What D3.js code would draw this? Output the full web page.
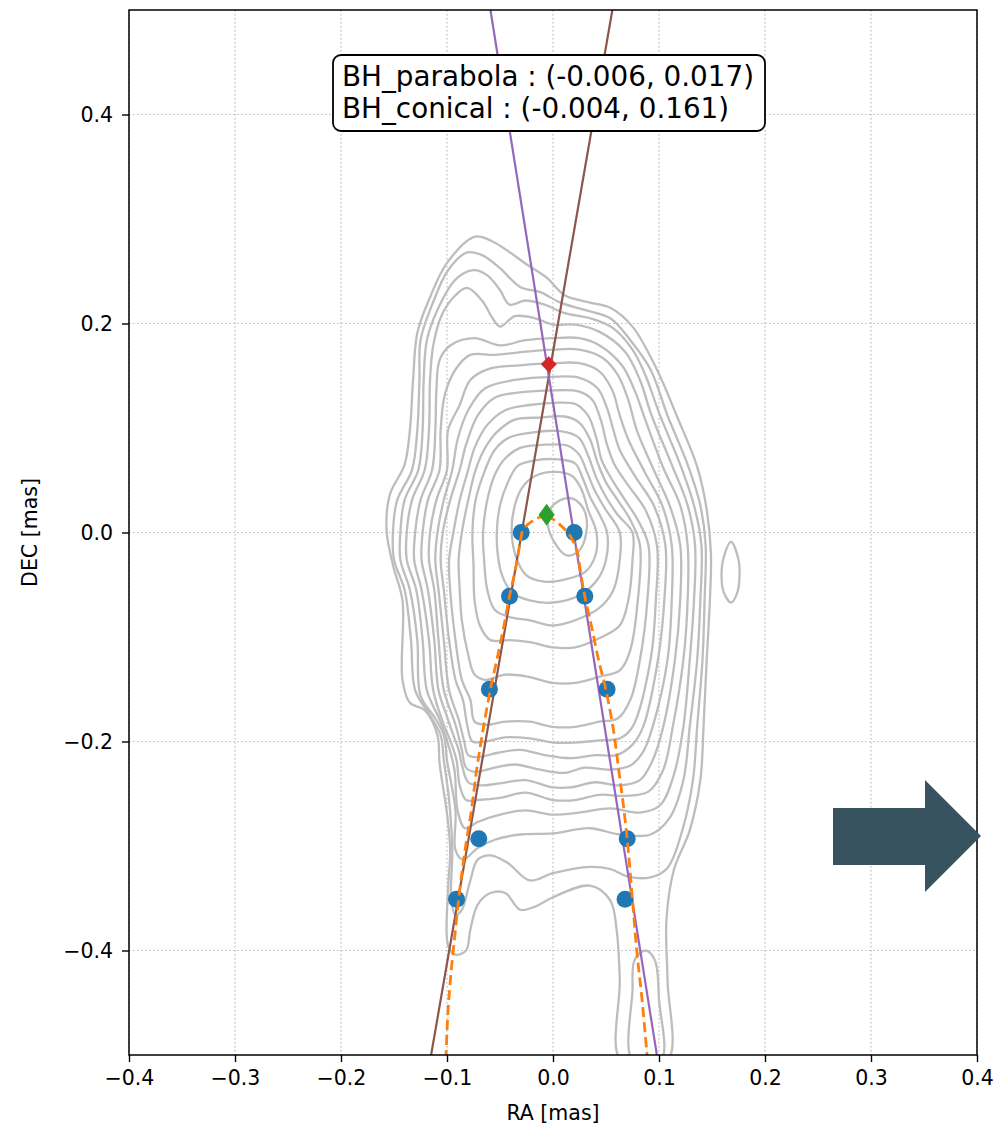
<!DOCTYPE html>
<html>
<head>
<meta charset="utf-8">
<script src="https://cdn.jsdelivr.net/npm/d3@7"></script>
<style>
body { margin: 0; background: #fff; }
text { font-family: "DejaVu Sans", sans-serif; }
</style>
</head>
<body>
<div id="chart"></div>
<script>
// ---- tick labels
const xTicks = [-0.4, -0.3, -0.2, -0.1, 0.0, 0.1, 0.2, 0.3, 0.4];
const yTicks = [-0.4, -0.2, 0.0, 0.2, 0.4];

// ---- jet edge points (RA, DEC)
const edgePoints = [
  [-0.030, 0.000], [0.020, 0.000],
  [-0.041, -0.061], [0.030, -0.061],
  [-0.060, -0.150], [0.051, -0.150],
  [-0.070, -0.293], [0.070, -0.293],
  [-0.091, -0.351], [0.068, -0.351]
];

// ---- black hole positions
const bhParabola = [-0.006, 0.017];
const bhConical = [-0.004, 0.161];

// ---- conical fits (two straight edges)
const conicalLeft = [[-0.115, -0.5], [0.056, 0.5]];
const conicalRight = [[0.098, -0.5], [-0.059, 0.5]];

// ---- parabolic fit, both branches from the apex
const parabolaLeft = [
  [-0.006, 0.017], [-0.018, 0.012], [-0.028, 0.003], [-0.031, -0.010], [-0.035, -0.033],
  [-0.041, -0.061], [-0.047, -0.093], [-0.053, -0.122], [-0.059, -0.150], [-0.066, -0.189],
  [-0.072, -0.227], [-0.077, -0.266], [-0.083, -0.304], [-0.088, -0.342], [-0.092, -0.380],
  [-0.096, -0.419], [-0.099, -0.457], [-0.101, -0.503]
];
const parabolaRight = [
  [-0.006, 0.017], [0.006, 0.008], [0.016, -0.003], [0.023, -0.019], [0.026, -0.038],
  [0.030, -0.061], [0.037, -0.093], [0.043, -0.122], [0.050, -0.151], [0.057, -0.189],
  [0.062, -0.227], [0.067, -0.266], [0.071, -0.304], [0.075, -0.352], [0.079, -0.400],
  [0.084, -0.447], [0.089, -0.503]
];

// ---- intensity contours, outermost first
const contour1 = [[-0.074,0.283],[-0.058,0.279],[-0.042,0.269],[-0.024,0.256],[-0.006,0.244],[0.011,0.227],[0.035,0.220],[0.054,0.215],[0.075,0.197],[0.098,0.156],[0.117,0.111],[0.136,0.063],[0.145,0.022],[0.149,-0.020],[0.148,-0.065],[0.145,-0.122],[0.142,-0.186],[0.139,-0.237],[0.129,-0.285],[0.114,-0.323],[0.107,-0.371],[0.108,-0.428],[0.108,-0.505],[0.064,-0.505],[0.063,-0.428],[0.060,-0.380],[0.054,-0.352],[0.035,-0.338],[0.000,-0.349],[-0.017,-0.358],[-0.031,-0.361],[-0.045,-0.345],[-0.059,-0.345],[-0.071,-0.356],[-0.078,-0.380],[-0.082,-0.400],[-0.092,-0.404],[-0.099,-0.395],[-0.099,-0.342],[-0.097,-0.304],[-0.100,-0.269],[-0.107,-0.221],[-0.109,-0.194],[-0.121,-0.170],[-0.135,-0.163],[-0.142,-0.141],[-0.142,-0.065],[-0.151,-0.031],[-0.157,0.002],[-0.154,0.036],[-0.140,0.065],[-0.135,0.098],[-0.132,0.146],[-0.128,0.191],[-0.116,0.225],[-0.100,0.258]];
const contour2 = [[-0.081,0.268],[-0.066,0.265],[-0.050,0.253],[-0.031,0.235],[-0.012,0.230],[0.007,0.220],[0.030,0.213],[0.054,0.205],[0.073,0.184],[0.092,0.156],[0.108,0.112],[0.127,0.065],[0.139,0.026],[0.144,-0.012],[0.143,-0.065],[0.141,-0.122],[0.136,-0.186],[0.132,-0.237],[0.122,-0.285],[0.108,-0.321],[0.092,-0.330],[0.070,-0.329],[0.054,-0.322],[0.035,-0.320],[0.000,-0.326],[-0.022,-0.333],[-0.043,-0.316],[-0.059,-0.309],[-0.071,-0.313],[-0.078,-0.333],[-0.086,-0.361],[-0.092,-0.366],[-0.096,-0.352],[-0.095,-0.304],[-0.098,-0.256],[-0.103,-0.218],[-0.106,-0.194],[-0.116,-0.175],[-0.130,-0.151],[-0.134,-0.103],[-0.140,-0.055],[-0.150,-0.026],[-0.151,0.000],[-0.147,0.031],[-0.133,0.060],[-0.128,0.098],[-0.126,0.146],[-0.125,0.184],[-0.114,0.218],[-0.099,0.251]];
const contour3 = [[-0.075,0.251],[-0.062,0.246],[-0.050,0.232],[-0.041,0.218],[-0.026,0.222],[-0.008,0.218],[0.011,0.210],[0.035,0.205],[0.056,0.196],[0.075,0.175],[0.087,0.151],[0.101,0.112],[0.120,0.065],[0.133,0.026],[0.140,-0.012],[0.139,-0.065],[0.136,-0.122],[0.129,-0.186],[0.123,-0.237],[0.110,-0.273],[0.092,-0.289],[0.063,-0.289],[0.035,-0.283],[0.000,-0.288],[-0.031,-0.289],[-0.055,-0.294],[-0.071,-0.302],[-0.085,-0.313],[-0.092,-0.304],[-0.092,-0.266],[-0.100,-0.218],[-0.103,-0.194],[-0.111,-0.178],[-0.125,-0.156],[-0.128,-0.103],[-0.135,-0.055],[-0.144,-0.026],[-0.144,0.000],[-0.140,0.031],[-0.127,0.060],[-0.123,0.098],[-0.122,0.146],[-0.119,0.184],[-0.109,0.213],[-0.092,0.242]];
const contour4 = [[-0.081,0.234],[-0.067,0.222],[-0.057,0.205],[-0.050,0.197],[-0.036,0.207],[-0.017,0.205],[0.000,0.199],[0.021,0.199],[0.044,0.192],[0.068,0.173],[0.082,0.146],[0.093,0.112],[0.112,0.065],[0.127,0.026],[0.134,-0.012],[0.133,-0.065],[0.129,-0.122],[0.123,-0.186],[0.114,-0.232],[0.101,-0.261],[0.082,-0.268],[0.054,-0.264],[0.025,-0.268],[0.000,-0.270],[-0.026,-0.266],[-0.050,-0.270],[-0.071,-0.277],[-0.083,-0.283],[-0.090,-0.266],[-0.093,-0.227],[-0.100,-0.199],[-0.107,-0.179],[-0.119,-0.151],[-0.123,-0.103],[-0.129,-0.055],[-0.138,-0.026],[-0.138,0.000],[-0.133,0.031],[-0.121,0.060],[-0.117,0.098],[-0.116,0.146],[-0.113,0.179],[-0.105,0.208],[-0.092,0.227]];
const contour5 = [[-0.097,0.179],[-0.074,0.186],[-0.050,0.179],[-0.026,0.184],[0.000,0.186],[0.025,0.186],[0.044,0.179],[0.065,0.160],[0.077,0.136],[0.087,0.108],[0.104,0.062],[0.120,0.026],[0.127,-0.012],[0.127,-0.065],[0.123,-0.122],[0.113,-0.186],[0.104,-0.227],[0.090,-0.248],[0.068,-0.252],[0.044,-0.251],[0.021,-0.256],[0.000,-0.256],[-0.026,-0.249],[-0.050,-0.254],[-0.071,-0.256],[-0.082,-0.256],[-0.088,-0.242],[-0.091,-0.218],[-0.097,-0.199],[-0.103,-0.184],[-0.113,-0.151],[-0.117,-0.103],[-0.124,-0.055],[-0.131,-0.026],[-0.130,0.000],[-0.125,0.031],[-0.114,0.060],[-0.111,0.098],[-0.110,0.136],[-0.107,0.165]];
const contour6 = [[-0.092,0.156],[-0.078,0.170],[-0.055,0.170],[-0.026,0.173],[0.000,0.175],[0.025,0.175],[0.047,0.167],[0.061,0.151],[0.071,0.127],[0.079,0.098],[0.095,0.060],[0.110,0.026],[0.120,-0.012],[0.120,-0.065],[0.115,-0.122],[0.104,-0.186],[0.094,-0.218],[0.082,-0.237],[0.063,-0.242],[0.040,-0.239],[0.016,-0.244],[0.000,-0.244],[-0.026,-0.237],[-0.050,-0.240],[-0.069,-0.242],[-0.080,-0.239],[-0.086,-0.222],[-0.089,-0.208],[-0.094,-0.194],[-0.099,-0.179],[-0.108,-0.151],[-0.112,-0.103],[-0.118,-0.055],[-0.124,-0.026],[-0.123,0.000],[-0.118,0.031],[-0.107,0.060],[-0.106,0.098],[-0.102,0.132]];
const contour7 = [[-0.088,0.122],[-0.078,0.146],[-0.059,0.157],[-0.031,0.160],[0.000,0.162],[0.025,0.162],[0.044,0.154],[0.056,0.136],[0.063,0.112],[0.071,0.089],[0.087,0.057],[0.103,0.026],[0.112,-0.012],[0.112,-0.065],[0.108,-0.122],[0.094,-0.186],[0.085,-0.210],[0.073,-0.223],[0.054,-0.227],[0.030,-0.225],[0.011,-0.230],[-0.012,-0.227],[-0.036,-0.222],[-0.055,-0.225],[-0.074,-0.229],[-0.082,-0.225],[-0.086,-0.208],[-0.092,-0.184],[-0.103,-0.151],[-0.108,-0.103],[-0.112,-0.055],[-0.117,-0.026],[-0.116,0.000],[-0.110,0.031],[-0.100,0.060],[-0.099,0.098]];
const contour8 = [[-0.080,0.117],[-0.064,0.138],[-0.036,0.146],[0.000,0.149],[0.025,0.148],[0.042,0.138],[0.051,0.119],[0.057,0.098],[0.063,0.079],[0.078,0.053],[0.095,0.026],[0.106,-0.012],[0.105,-0.065],[0.099,-0.122],[0.085,-0.186],[0.075,-0.203],[0.060,-0.213],[0.040,-0.213],[0.016,-0.216],[-0.008,-0.213],[-0.031,-0.208],[-0.053,-0.211],[-0.071,-0.215],[-0.080,-0.213],[-0.084,-0.199],[-0.089,-0.179],[-0.098,-0.151],[-0.103,-0.103],[-0.108,-0.055],[-0.111,-0.026],[-0.109,0.000],[-0.103,0.031],[-0.095,0.060],[-0.090,0.089]];
const contour9 = [[-0.104,0.000],[-0.097,0.031],[-0.088,0.060],[-0.082,0.084],[-0.071,0.112],[-0.055,0.129],[-0.031,0.134],[0.000,0.136],[0.024,0.135],[0.037,0.127],[0.045,0.108],[0.051,0.084],[0.058,0.065],[0.071,0.045],[0.087,0.022],[0.098,-0.012],[0.097,-0.065],[0.092,-0.122],[0.075,-0.186],[0.063,-0.197],[0.044,-0.199],[0.021,-0.201],[0.000,-0.201],[-0.022,-0.197],[-0.045,-0.196],[-0.064,-0.200],[-0.076,-0.200],[-0.081,-0.184],[-0.085,-0.160],[-0.092,-0.141],[-0.098,-0.103],[-0.103,-0.055],[-0.106,-0.026]];
const contour10 = [[-0.094,0.000],[-0.088,0.031],[-0.080,0.060],[-0.074,0.081],[-0.062,0.103],[-0.045,0.117],[-0.022,0.122],[0.000,0.124],[0.021,0.123],[0.033,0.112],[0.041,0.090],[0.046,0.069],[0.056,0.050],[0.068,0.031],[0.080,0.012],[0.090,-0.012],[0.089,-0.065],[0.082,-0.122],[0.073,-0.160],[0.061,-0.178],[0.044,-0.181],[0.021,-0.186],[0.000,-0.186],[-0.022,-0.181],[-0.045,-0.181],[-0.064,-0.184],[-0.074,-0.181],[-0.078,-0.160],[-0.086,-0.141],[-0.092,-0.103],[-0.097,-0.055],[-0.098,-0.026]];
const contour11 = [[-0.086,0.000],[-0.080,0.031],[-0.073,0.060],[-0.064,0.081],[-0.053,0.096],[-0.036,0.108],[-0.012,0.110],[0.011,0.111],[0.025,0.105],[0.035,0.089],[0.042,0.067],[0.050,0.048],[0.061,0.031],[0.073,0.012],[0.082,-0.012],[0.080,-0.065],[0.073,-0.112],[0.063,-0.132],[0.044,-0.138],[0.021,-0.144],[0.000,-0.144],[-0.024,-0.138],[-0.045,-0.136],[-0.064,-0.141],[-0.074,-0.136],[-0.080,-0.117],[-0.086,-0.084],[-0.088,-0.055],[-0.089,-0.026]];
const contour12 = [[-0.076,0.000],[-0.073,0.031],[-0.064,0.060],[-0.055,0.079],[-0.041,0.091],[-0.017,0.096],[0.007,0.097],[0.024,0.091],[0.033,0.074],[0.041,0.052],[0.050,0.034],[0.061,0.017],[0.075,0.000],[0.075,-0.026],[0.071,-0.065],[0.063,-0.089],[0.044,-0.101],[0.021,-0.110],[0.000,-0.110],[-0.022,-0.105],[-0.041,-0.103],[-0.059,-0.103],[-0.069,-0.089],[-0.074,-0.065],[-0.075,-0.031]];
const contour13 = [[-0.066,0.000],[-0.062,0.031],[-0.055,0.055],[-0.045,0.071],[-0.031,0.081],[-0.008,0.084],[0.014,0.083],[0.025,0.074],[0.032,0.058],[0.039,0.041],[0.049,0.023],[0.063,0.000],[0.063,-0.026],[0.057,-0.055],[0.044,-0.072],[0.021,-0.084],[0.000,-0.089],[-0.022,-0.084],[-0.041,-0.081],[-0.055,-0.074],[-0.062,-0.055],[-0.065,-0.026]];
const contour14 = [[-0.053,0.000],[-0.050,0.026],[-0.043,0.047],[-0.033,0.064],[-0.017,0.069],[0.005,0.070],[0.021,0.066],[0.028,0.052],[0.035,0.034],[0.044,0.017],[0.051,0.000],[0.050,-0.026],[0.042,-0.045],[0.025,-0.060],[0.000,-0.067],[-0.022,-0.065],[-0.039,-0.057],[-0.048,-0.041],[-0.052,-0.022]];
const contour15 = [[-0.039,0.000],[-0.036,0.026],[-0.029,0.043],[-0.017,0.054],[0.002,0.058],[0.018,0.054],[0.027,0.041],[0.033,0.022],[0.041,0.000],[0.040,-0.022],[0.030,-0.038],[0.011,-0.045],[-0.008,-0.047],[-0.025,-0.041],[-0.034,-0.026]];
const contour16 = [[0.000,0.026],[0.016,0.033],[0.028,0.024],[0.032,0.005],[0.025,-0.017],[0.013,-0.022],[0.000,-0.007],[-0.005,0.010]];
const islandEast = [[0.168,-0.009],[0.175,-0.026],[0.176,-0.041],[0.174,-0.057],[0.168,-0.067],[0.161,-0.057],[0.159,-0.041],[0.161,-0.024]];
const islandSouth = [[0.075,-0.505],[0.075,-0.438],[0.077,-0.409],[0.087,-0.400],[0.096,-0.409],[0.100,-0.447],[0.102,-0.505]];

const contours = [contour1, contour2, contour3, contour4, contour5, contour6, contour7, contour8,
  contour9, contour10, contour11, contour12, contour13, contour14, contour15, contour16,
  islandEast, islandSouth];

// ---- layout
const W = 998, H = 1134;
const plot = {left: 129, right: 977, top: 10, bottom: 1055};

const svg = d3.select("#chart").append("svg")
    .attr("width", W)
    .attr("height", H);

const xScale = d3.scaleLinear().domain([-0.4, 0.4]).range([plot.left, plot.right]);
const yScale = d3.scaleLinear().domain([-0.5, 0.5]).range([plot.bottom, plot.top]);

svg.append("clipPath").attr("id", "clip")
  .append("rect")
    .attr("x", plot.left).attr("y", plot.top)
    .attr("width", plot.right - plot.left).attr("height", plot.bottom - plot.top);

// grid
const grid = svg.append("g").attr("class", "grid")
    .attr("stroke", "#b8b8b8").attr("stroke-width", 1.2).attr("stroke-dasharray", "1.5,2.5");
grid.selectAll(".gx").data(xTicks).join("line")
    .attr("x1", d => xScale(d)).attr("x2", d => xScale(d))
    .attr("y1", plot.top).attr("y2", plot.bottom);
grid.selectAll(".gy").data(yTicks).join("line")
    .attr("x1", plot.left).attr("x2", plot.right)
    .attr("y1", d => yScale(d)).attr("y2", d => yScale(d));

const inner = svg.append("g").attr("clip-path", "url(#clip)");

// contours
const contourLine = d3.line()
    .x(d => xScale(d[0]))
    .y(d => yScale(d[1]))
    .curve(d3.curveCatmullRomClosed.alpha(0.5));

inner.append("g").selectAll("path").data(contours).join("path")
    .attr("d", contourLine)
    .attr("fill", "none")
    .attr("stroke", "#bdbdbd")
    .attr("stroke-width", 2.3);

// fits
const straight = d3.line().x(d => xScale(d[0])).y(d => yScale(d[1]));

inner.append("path").datum(conicalLeft)
    .attr("d", straight).attr("fill", "none")
    .attr("stroke", "#8c564b").attr("stroke-width", 2.2);
inner.append("path").datum(conicalRight)
    .attr("d", straight).attr("fill", "none")
    .attr("stroke", "#9467bd").attr("stroke-width", 2.2);

// points
inner.append("g").selectAll("circle").data(edgePoints).join("circle")
    .attr("cx", d => xScale(d[0]))
    .attr("cy", d => yScale(d[1]))
    .attr("r", 8.5)
    .attr("fill", "#1f77b4");

[parabolaLeft, parabolaRight].forEach(branch => {
  inner.append("path").datum(branch)
    .attr("d", d3.line().x(d => xScale(d[0])).y(d => yScale(d[1])).curve(d3.curveCatmullRom))
    .attr("fill", "none")
    .attr("stroke", "#ff7f0e").attr("stroke-width", 2.8)
    .attr("stroke-dasharray", "10,5");
});

// black hole markers
const diamond = (cx, cy, w, h) => `M${cx},${cy - h}L${cx + w},${cy}L${cx},${cy + h}L${cx - w},${cy}Z`;
inner.append("path")
    .attr("d", diamond(xScale(bhConical[0]), yScale(bhConical[1]), 8, 8))
    .attr("fill", "#d62728");
inner.append("path")
    .attr("d", diamond(xScale(bhParabola[0]), yScale(bhParabola[1]), 8, 11))
    .attr("fill", "#2ca02c");

// axes
const xAxis = svg.append("g")
    .attr("transform", `translate(0,${plot.bottom})`)
    .call(d3.axisBottom(xScale).tickValues(xTicks).tickFormat(d3.format(".1f"))
      .tickSize(7).tickPadding(8).tickSizeOuter(0));
const yAxis = svg.append("g")
    .attr("transform", `translate(${plot.left},0)`)
    .call(d3.axisLeft(yScale).tickValues(yTicks).tickFormat(d3.format(".1f"))
      .tickSize(7).tickPadding(9).tickSizeOuter(0));

[xAxis, yAxis].forEach(g => {
  g.select(".domain").remove();
  g.selectAll(".tick line").attr("stroke", "#000").attr("stroke-width", 1.4);
  g.selectAll(".tick text")
    .attr("fill", "#000")
    .style("font-family", "'DejaVu Sans', sans-serif")
    .style("font-size", "20.5px");
});

svg.append("rect")
    .attr("x", plot.left).attr("y", plot.top)
    .attr("width", plot.right - plot.left).attr("height", plot.bottom - plot.top)
    .attr("fill", "none").attr("stroke", "#000").attr("stroke-width", 1.5);

svg.append("text")
    .attr("x", (plot.left + plot.right) / 2).attr("y", 1120)
    .attr("text-anchor", "middle")
    .style("font-size", "20.5px")
    .text("RA [mas]");

svg.append("text")
    .attr("transform", `translate(37,${(plot.top + plot.bottom) / 2}) rotate(-90)`)
    .attr("text-anchor", "middle")
    .style("font-size", "20.5px")
    .text("DEC [mas]");

// annotation box
const labels = [
  `BH_parabola : (${bhParabola[0].toFixed(3)}, ${bhParabola[1].toFixed(3)})`,
  `BH_conical : (${bhConical[0].toFixed(3)}, ${bhConical[1].toFixed(3)})`
];
const box = svg.append("g");
box.append("rect")
    .attr("x", 333).attr("y", 55).attr("width", 432).attr("height", 76)
    .attr("rx", 8).attr("ry", 8)
    .attr("fill", "#fff").attr("stroke", "#000").attr("stroke-width", 1.8);
box.selectAll("text").data(labels).join("text")
    .attr("x", 342)
    .attr("y", (d, i) => 86 + i * 32)
    .style("font-size", "27.8px")
    .text(d => d);

// arrow decoration to the right
svg.append("path")
    .attr("d", "M833,808L925,808L925,780L981,836L925,892L925,865L833,865Z")
    .attr("fill", "#37535f");
</script>
</body>
</html>
